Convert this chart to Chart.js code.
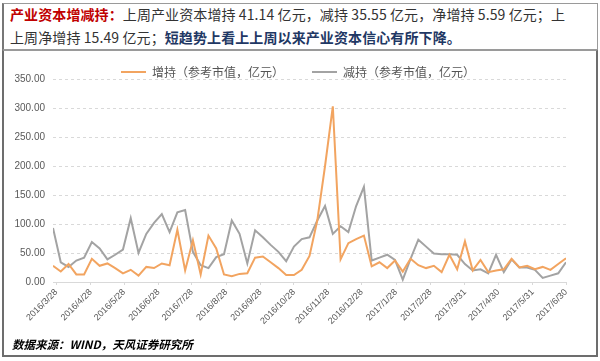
<!DOCTYPE html>
<html>
<head>
<meta charset="utf-8">
<script src="https://cdn.jsdelivr.net/npm/chart.js@4.4.0/dist/chart.umd.min.js"></script>
<style>
  body { margin: 0; background: #fff; font-family: "Noto Sans CJK SC", "Noto Sans", sans-serif; }
  #pagina { position: relative; width: 600px; height: 361px; overflow: hidden; }
  #testata {
    position: absolute; left: 2px; top: 3px; width: 593px; height: 45px;
    border: 1px solid #9a9a9a; border-left: 2px solid #777;
  }
  #testo {
    position: absolute; left: 10px; top: 3px; font-size: 14px; line-height: 23px;
    color: #333; white-space: nowrap; letter-spacing: 0.1px;
  }
  #testo .rosso { color: #c00000; font-weight: bold; }
  #testo .blu { color: #1f3864; font-weight: bold; }
  #riquadro {
    position: absolute; left: 2px; top: 50px; width: 592px; height: 304px;
    border: 2px solid #6d6d6d; border-top: 1px solid #9a9a9a;
  }
  #contenitore { position: absolute; left: 0; top: 52px; width: 600px; height: 290px; }
  #fonte {
    position: absolute; left: 12px; top: 336px; font-size: 11.5px; font-weight: bold;
    font-style: italic; color: #000;
  }
</style>
</head>
<body>
<div id="pagina">
  <div id="testata"></div>
  <div id="testo"><span class="rosso">产业资本增减持：</span>上周产业资本增持 41.14 亿元，减持 35.55 亿元，净增持 5.59 亿元；上<br>上周净增持 15.49 亿元；<span class="blu">短趋势上看上上周以来产业资本信心有所下降。</span></div>
  <div id="riquadro"></div>
  <div id="contenitore"><canvas id="grafico"></canvas></div>
  <div id="fonte">数据来源：WIND，天风证券研究所</div>
</div>

<script>
// dati settimanali dal 2016/3/25 al 2017/6/30 (67 settimane)
var data_inizio = '2016/3/25';

var nomi_serie = ['增持（参考市值，亿元）', '减持（参考市值，亿元）'];

// 增持
var valori_aumento = [
  28, 18, 31, 13, 13, 40, 28, 32, 24, 15,
  21, 11, 26, 24, 32, 29, 90, 20, 72, 13,
  80, 58, 13, 10, 14, 15, 42, 44, 34, 24,
  12, 12, 21, 45, 106, 200, 303, 39, 67, 74,
  80, 27, 34, 24, 37, 18, 40, 29, 24, 28,
  17, 47, 22, 70, 20, 38, 17, 20, 22, 40,
  25, 28, 22, 26, 21, 31, 41
];

// 减持
var valori_riduzione = [
  93, 34, 26, 37, 42, 69, 58, 39, 47, 56,
  110, 50, 83, 102, 117, 86, 120, 124, 52, 29,
  24, 43, 48, 106, 83, 32, 89, 77, 64, 52,
  36, 61, 74, 77, 106, 131, 83, 96, 86, 131,
  164, 37, 42, 47, 38, 4, 40, 73, 61, 49,
  48, 48, 47, 31, 20, 22, 15, 47, 17, 39,
  25, 25, 21, 7, 11, 15, 34
];

// etichette dell'asse x
var etichette_x = [
  '2016/3/28', '2016/4/28', '2016/5/28', '2016/6/28', '2016/7/28', '2016/8/28',
  '2016/9/28', '2016/10/28', '2016/11/28', '2016/12/28', '2017/1/28', '2017/2/28',
  '2017/3/31', '2017/4/30', '2017/5/31', '2017/6/30'
];

var tick_y = [0, 50, 100, 150, 200, 250, 300, 350];

function giorni_da_inizio(testo_data) {
  var p = testo_data.split('/');
  var q = data_inizio.split('/');
  var d1 = Date.UTC(+p[0], +p[1] - 1, +p[2]);
  var d0 = Date.UTC(+q[0], +q[1] - 1, +q[2]);
  return Math.round((d1 - d0) / 86400000);
}

function punti_settimanali(valori) {
  var punti = [];
  for (var i = 0; i < valori.length; i++) {
    punti.push({ x: i * 7, y: valori[i] });
  }
  return punti;
}

var posizioni_x = etichette_x.map(giorni_da_inizio);
var colore_grid = '#d9d9d9';
var colore_testo = '#595959';

// legenda: altezza ridotta e spostata un po' a destra
var sistema_legenda = {
  id: 'sistema_legenda',
  beforeInit: function(chart) {
    var fit_originale = chart.legend.fit;
    chart.legend.fit = function() {
      fit_originale.bind(chart.legend)();
      this.height -= 9;
    };
  },
  afterLayout: function(chart) {
    chart.legend.left += 15;
    chart.legend.right += 15;
  }
};

var grafico = new Chart(document.getElementById('grafico'), {
  type: 'line',
  data: {
    datasets: [{
      label: nomi_serie[0],
      data: punti_settimanali(valori_aumento),
      borderColor: '#f2a460',
      backgroundColor: '#f2a460',
      borderWidth: 2,
      pointRadius: 0,
      tension: 0
    }, {
      label: nomi_serie[1],
      data: punti_settimanali(valori_riduzione),
      borderColor: '#a3a3a3',
      backgroundColor: '#a3a3a3',
      borderWidth: 2,
      pointRadius: 0,
      tension: 0
    }]
  },
  options: {
    responsive: true,
    maintainAspectRatio: false,
    animation: false,
    layout: { padding: { top: -14, right: 34, bottom: 0, left: 0 } },
    plugins: {
      tooltip: { enabled: false },
      legend: {
        position: 'top',
        labels: {
          usePointStyle: true,
          pointStyle: 'line',
          pointStyleWidth: 25,
          padding: 28,
          color: '#555',
          font: { family: '"Noto Sans CJK SC"', size: 12 }
        }
      }
    },
    scales: {
      x: {
        type: 'linear',
        min: 0,
        max: (valori_aumento.length - 1) * 7,
        afterFit: function(scale) { scale.height = 60; },
        afterBuildTicks: function(scale) {
          scale.ticks = posizioni_x.map(function(v) { return { value: v }; });
        },
        ticks: {
          autoSkip: false,
          minRotation: 45,
          maxRotation: 45,
          padding: 2,
          color: colore_testo,
          font: { family: '"Liberation Sans"', size: 9 },
          callback: function(valore) {
            var k = posizioni_x.indexOf(valore);
            return k >= 0 ? etichette_x[k] : '';
          }
        },
        grid: { display: true, drawOnChartArea: false, drawTicks: true, tickLength: 3, color: colore_grid },
        border: { display: true, color: colore_grid, width: 1 }
      },
      y: {
        min: 0,
        max: 350,
        afterFit: function(scale) { scale.width = 53; },
        afterBuildTicks: function(scale) {
          scale.ticks = tick_y.map(function(v) { return { value: v }; });
        },
        ticks: {
          padding: 8,
          color: colore_testo,
          font: { family: '"Liberation Sans"', size: 10 },
          callback: function(valore) { return valore.toFixed(2); }
        },
        grid: { color: colore_grid, drawTicks: false, lineWidth: 1 },
        border: { display: false, dash: [3, 3] }
      }
    }
  },
  plugins: [sistema_legenda]
});
</script>
</body>
</html>
